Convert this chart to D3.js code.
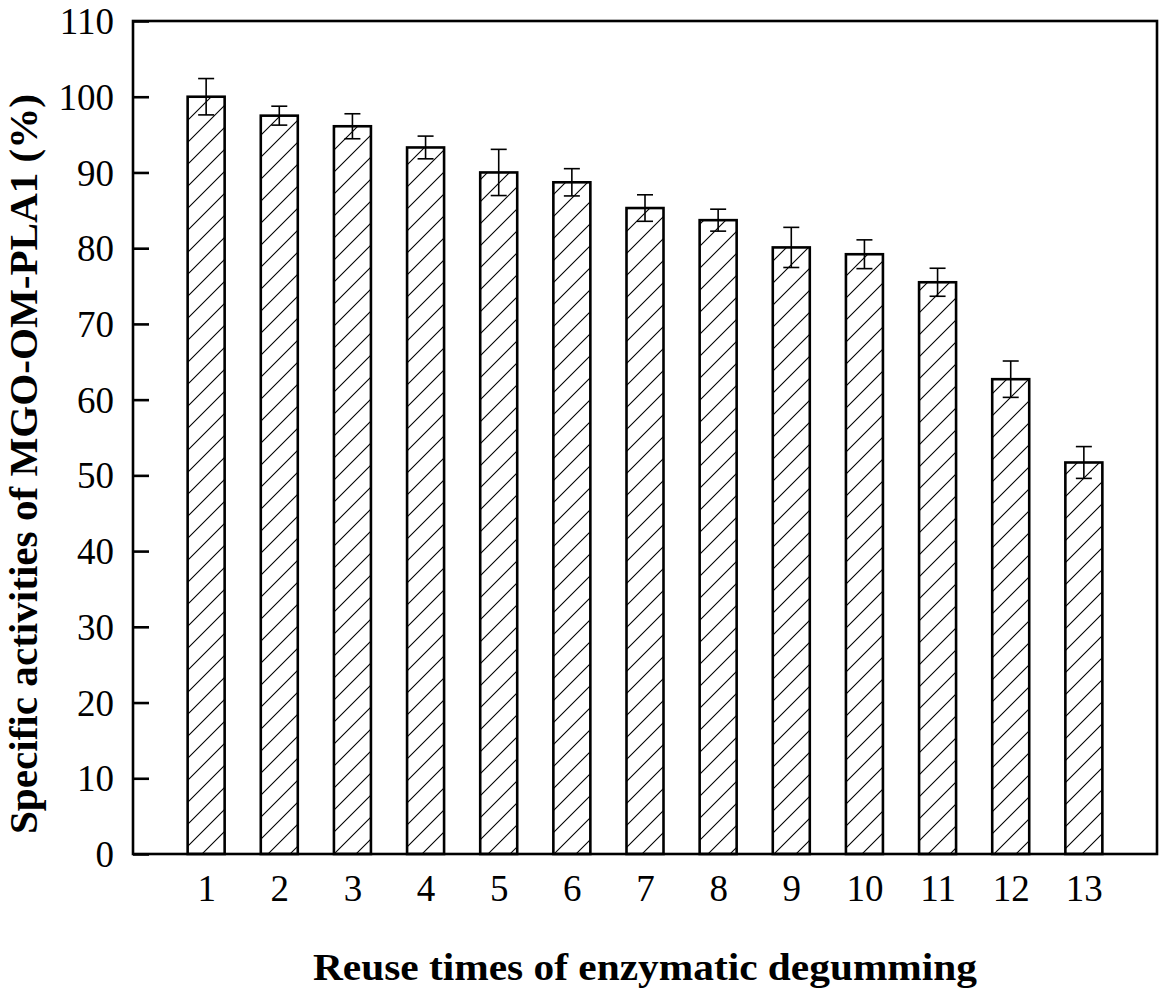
<!DOCTYPE html>
<html><head><meta charset="utf-8">
<script src="https://cdn.jsdelivr.net/npm/d3@7"></script>
<style>body{margin:0;background:#fff}svg{display:block}</style>
</head><body>
<svg id="c" width="1163" height="996"></svg>
<script>
const categories = ["1","2","3","4","5","6","7","8","9","10","11","12","13"];
const values = [100, 97.5, 96.1, 93.3, 90.0, 88.7, 85.3, 83.7, 80.1, 79.2, 75.5, 62.7, 51.7];
const errors = [2.4, 1.25, 1.65, 1.5, 3.05, 1.8, 1.75, 1.45, 2.65, 1.9, 1.85, 2.4, 2.1];
const yTicks = [0,10,20,30,40,50,60,70,80,90,100,110];
const xTitle = "Reuse times of enzymatic degumming";
const yTitle = "Specific activities of MGO-OM-PLA1 (%)";

const svg = d3.select("#c");
const L = 133, R = 1157, T = 21, B = 854;
const x = d3.scaleLinear().domain([0, 14]).range([L, R]);
const y = d3.scaleLinear().domain([0, 110]).range([B, T]);
const barW = 37;
const serif = "'Liberation Serif','Times New Roman',serif";

const defs = svg.append("defs");
const pat = defs.append("pattern").attr("id","hatch").attr("patternUnits","userSpaceOnUse")
  .attr("width",22).attr("height",22);
pat.append("rect").attr("width",22).attr("height",22).attr("fill","#fff");
pat.append("path").attr("d","M-2,24 L24,-2 M-13,13 L13,-13 M9,35 L35,9")
  .attr("stroke","#000").attr("stroke-width",1.1).attr("fill","none");

// bars
svg.append("g").selectAll("rect").data(values).join("rect")
  .attr("x",(d,i)=>x(i+1)-barW/2).attr("y",d=>y(d))
  .attr("width",barW).attr("height",d=>y(0)-y(d))
  .attr("fill","url(#hatch)").attr("stroke","#000").attr("stroke-width",2.6);

// error bars
const eg = svg.append("g").attr("stroke","#000").attr("stroke-width",1.6);
values.forEach((v,i)=>{
  const cx = x(i+1), e = errors[i];
  eg.append("line").attr("x1",cx).attr("x2",cx).attr("y1",y(v+e)).attr("y2",y(v-e));
  eg.append("line").attr("x1",cx-8).attr("x2",cx+8).attr("y1",y(v+e)).attr("y2",y(v+e));
  eg.append("line").attr("x1",cx-8).attr("x2",cx+8).attr("y1",y(v-e)).attr("y2",y(v-e));
});

// frame
svg.append("rect").attr("x",L).attr("y",T).attr("width",R-L).attr("height",B-T)
  .attr("fill","none").attr("stroke","#000").attr("stroke-width",2.6);

// y axis
const yAxis = d3.axisLeft(y).tickValues(yTicks).tickSizeInner(-16).tickSizeOuter(0).tickPadding(19);
const ya = svg.append("g").attr("transform",`translate(${L},0)`).call(yAxis);
ya.select(".domain").remove();
ya.selectAll(".tick line").attr("stroke","#000").attr("stroke-width",2.6);
ya.selectAll(".tick text").attr("font-family",serif)
  .attr("font-size",37).attr("fill","#000").attr("dy","0.34em");

// x axis
const xAxis = d3.axisBottom(x).tickValues(d3.range(1,14)).tickFormat((d)=>categories[d-1]).tickSize(0).tickPadding(21);
const xa = svg.append("g").attr("transform",`translate(0,${B})`).call(xAxis);
xa.select(".domain").remove();
xa.selectAll(".tick text").attr("font-family",serif)
  .attr("font-size",37).attr("fill","#000");

// titles
svg.append("text").attr("x",645).attr("y",980).attr("text-anchor","middle")
  .attr("font-family",serif).attr("font-weight","bold")
  .attr("font-size",38).attr("textLength",664).attr("lengthAdjust","spacingAndGlyphs").text(xTitle);
svg.append("text").attr("transform","translate(37,464) rotate(-90)").attr("text-anchor","middle")
  .attr("font-family",serif).attr("font-weight","bold")
  .attr("font-size",40).attr("textLength",740).attr("lengthAdjust","spacingAndGlyphs").text(yTitle);
</script>
</body></html>
